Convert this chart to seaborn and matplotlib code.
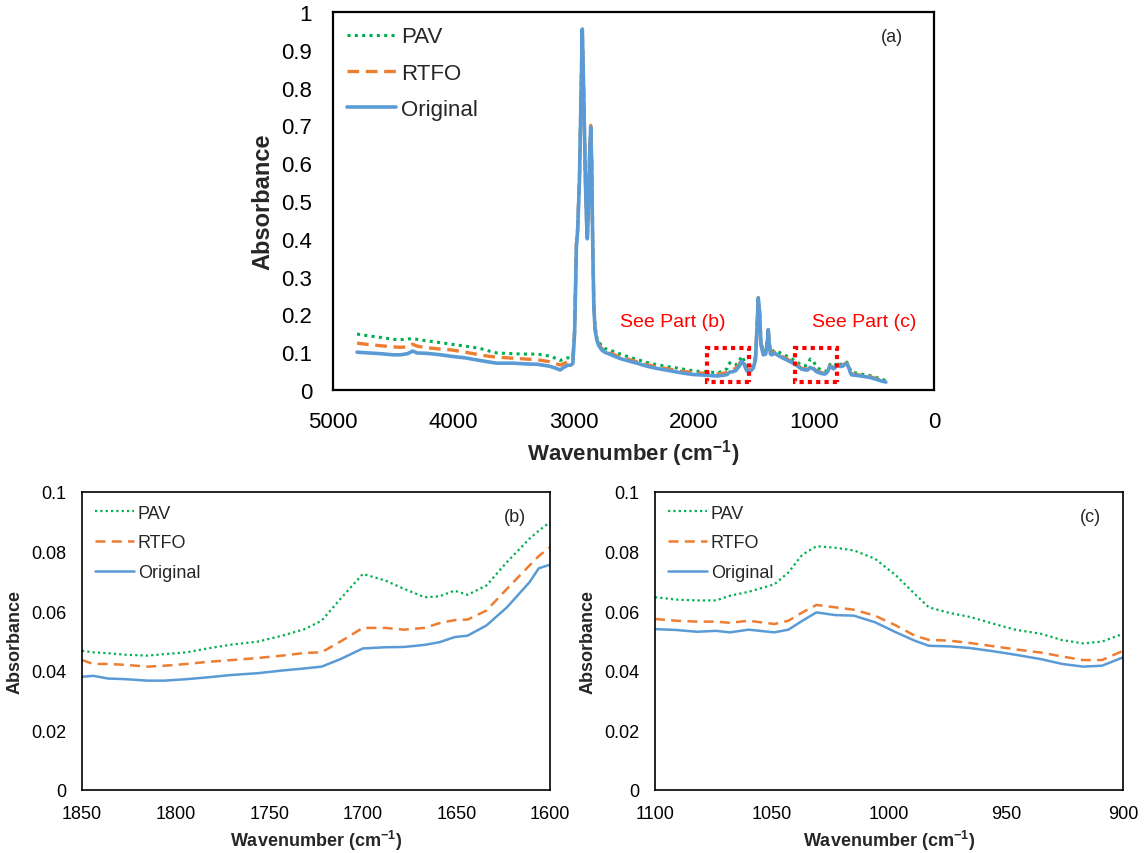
import numpy as np
import pandas as pd
import matplotlib
matplotlib.use("Agg")
import matplotlib.pyplot as plt
import seaborn as sns
from matplotlib.patches import Rectangle

sns.set_style("white")
plt.rcParams['font.family'] = ['Liberation Sans', 'DejaVu Sans']
plt.rcParams['mathtext.fontset'] = 'custom'
plt.rcParams['mathtext.rm'] = 'Liberation Sans'
plt.rcParams['mathtext.bf'] = 'Liberation Sans:bold'

# ---------------- data: full spectrum (a) ----------------
wavenumber = [
    4800, 4700, 4600, 4500, 4440, 4380, 4337, 4300, 4220, 4100,
    4013, 3900, 3777, 3700, 3638, 3500, 3400, 3300, 3200, 3150,
    3110, 3080, 3050, 3020, 3005, 2990, 2975, 2965, 2950, 2940,
    2926, 2915, 2900, 2890, 2884, 2875, 2865, 2856, 2848, 2840,
    2830, 2820, 2806, 2790, 2765, 2740, 2700, 2650, 2600, 2529,
    2450, 2390, 2320, 2252, 2180, 2113, 2050, 2003, 1950, 1891,
    1850, 1800, 1750, 1720, 1700, 1680, 1650, 1620, 1600, 1580,
    1560, 1545, 1520, 1503, 1485, 1470, 1462, 1450, 1440, 1420,
    1400, 1385, 1379, 1370, 1360, 1351, 1323, 1290, 1254, 1210,
    1171, 1130, 1101, 1070, 1050, 1030, 1000, 976, 940, 910,
    893, 880, 865, 850, 837, 820, 806, 795, 780, 760,
    740, 726, 710, 695, 685, 650, 588, 530, 477, 440,
    400]

original = [
    0.100, 0.098, 0.096, 0.093, 0.093, 0.096, 0.103, 0.098, 0.097, 0.093,
    0.089, 0.085, 0.078, 0.074, 0.071, 0.071, 0.069, 0.068, 0.063, 0.058,
    0.053, 0.060, 0.065, 0.066, 0.070, 0.150, 0.380, 0.420, 0.550, 0.720,
    0.955, 0.800, 0.550, 0.440, 0.400, 0.480, 0.620, 0.695, 0.600, 0.400,
    0.220, 0.160, 0.133, 0.118, 0.106, 0.100, 0.095, 0.088, 0.082, 0.076,
    0.069, 0.063, 0.058, 0.054, 0.050, 0.046, 0.043, 0.041, 0.040, 0.039,
    0.038, 0.037, 0.039, 0.041, 0.0475, 0.048, 0.051, 0.063, 0.076, 0.068,
    0.052, 0.049, 0.052, 0.058, 0.080, 0.180, 0.243, 0.200, 0.120, 0.093,
    0.095, 0.130, 0.159, 0.120, 0.095, 0.093, 0.097, 0.090, 0.084, 0.077,
    0.071, 0.062, 0.055, 0.053, 0.053, 0.060, 0.055, 0.048, 0.044, 0.042,
    0.045, 0.052, 0.063, 0.060, 0.056, 0.060, 0.066, 0.068, 0.062, 0.063,
    0.068, 0.069, 0.060, 0.045, 0.040, 0.039, 0.036, 0.033, 0.028, 0.024,
    0.021]

rtfo = [
    0.124, 0.120, 0.117, 0.114, 0.113, 0.114, 0.121, 0.116, 0.112, 0.108,
    0.106, 0.100, 0.093, 0.089, 0.087, 0.084, 0.082, 0.080, 0.075, 0.070,
    0.066, 0.070, 0.074, 0.076, 0.078, 0.155, 0.385, 0.425, 0.555, 0.725,
    0.950, 0.800, 0.555, 0.445, 0.405, 0.485, 0.625, 0.700, 0.605, 0.405,
    0.225, 0.165, 0.135, 0.122, 0.110, 0.104, 0.098, 0.092, 0.087, 0.080,
    0.073, 0.067, 0.062, 0.058, 0.054, 0.050, 0.048, 0.046, 0.045, 0.044,
    0.0435, 0.042, 0.0445, 0.046, 0.054, 0.054, 0.057, 0.068, 0.0815, 0.072,
    0.056, 0.053, 0.055, 0.061, 0.085, 0.185, 0.245, 0.205, 0.125, 0.097,
    0.099, 0.133, 0.160, 0.124, 0.099, 0.097, 0.100, 0.093, 0.087, 0.080,
    0.074, 0.065, 0.057, 0.056, 0.056, 0.062, 0.057, 0.050, 0.047, 0.044,
    0.047, 0.054, 0.065, 0.062, 0.058, 0.062, 0.068, 0.070, 0.064, 0.065,
    0.070, 0.071, 0.062, 0.047, 0.042, 0.041, 0.038, 0.035, 0.030, 0.026,
    0.023]

pav = [
    0.148, 0.143, 0.139, 0.134, 0.133, 0.135, 0.136, 0.134, 0.130, 0.125,
    0.121, 0.116, 0.110, 0.103, 0.098, 0.096, 0.095, 0.095, 0.090, 0.084,
    0.078, 0.082, 0.085, 0.085, 0.086, 0.160, 0.385, 0.425, 0.555, 0.720,
    0.950, 0.800, 0.555, 0.445, 0.405, 0.485, 0.620, 0.695, 0.605, 0.405,
    0.230, 0.170, 0.140, 0.128, 0.117, 0.110, 0.106, 0.100, 0.094, 0.086,
    0.079, 0.073, 0.068, 0.064, 0.060, 0.057, 0.053, 0.051, 0.049, 0.048,
    0.047, 0.0455, 0.050, 0.057, 0.072, 0.066, 0.066, 0.076, 0.090, 0.078,
    0.062, 0.058, 0.060, 0.066, 0.090, 0.185, 0.243, 0.205, 0.128, 0.102,
    0.104, 0.135, 0.158, 0.128, 0.104, 0.102, 0.105, 0.100, 0.094, 0.087,
    0.080, 0.072, 0.065, 0.064, 0.069, 0.082, 0.074, 0.060, 0.053, 0.049,
    0.052, 0.060, 0.068, 0.066, 0.063, 0.066, 0.072, 0.074, 0.068, 0.068,
    0.073, 0.074, 0.066, 0.052, 0.047, 0.045, 0.041, 0.038, 0.033, 0.029,
    0.025]

# ---------------- data: zoom (b) 1850-1600 ----------------
wn_b = [1850, 1844, 1836, 1827, 1815, 1806, 1794, 1783, 1770, 1756,
        1743, 1731, 1722, 1712, 1700, 1688, 1678, 1667, 1659, 1651,
        1644, 1634, 1623, 1611, 1606, 1600]
orig_b = [0.0380, 0.0383, 0.0374, 0.0372, 0.0367, 0.0367, 0.0372, 0.0378, 0.0386, 0.0392,
          0.0401, 0.0408, 0.0414, 0.0439, 0.0475, 0.0479, 0.0480, 0.0487, 0.0496, 0.0513,
          0.0518, 0.0552, 0.0613, 0.0697, 0.0744, 0.0756]
rtfo_b = [0.0436, 0.0423, 0.0423, 0.0420, 0.0414, 0.0417, 0.0423, 0.0430, 0.0436, 0.0443,
          0.0451, 0.0460, 0.0462, 0.0498, 0.0544, 0.0544, 0.0538, 0.0544, 0.0560, 0.0570,
          0.0572, 0.0602, 0.0675, 0.0753, 0.0785, 0.0815]
pav_b = [0.0467, 0.0462, 0.0459, 0.0454, 0.0451, 0.0456, 0.0462, 0.0475, 0.0488, 0.0498,
         0.0518, 0.0540, 0.0568, 0.0641, 0.0725, 0.0703, 0.0675, 0.0647, 0.0650, 0.0669,
         0.0655, 0.0686, 0.0765, 0.0843, 0.0870, 0.0899]

# ---------------- data: zoom (c) 1100-900 ----------------
wn_c = [1100, 1091, 1082, 1074, 1068, 1060, 1049, 1043, 1037, 1031,
        1023, 1015, 1006, 997, 989, 983, 974, 965, 955, 946,
        935, 926, 917, 909, 900]
orig_c = [0.0540, 0.0537, 0.0531, 0.0534, 0.0529, 0.0538, 0.0529, 0.0538, 0.0568, 0.0596,
          0.0587, 0.0585, 0.0563, 0.0529, 0.0501, 0.0484, 0.0482, 0.0476, 0.0465, 0.0454,
          0.0439, 0.0423, 0.0414, 0.0417, 0.0445]
rtfo_c = [0.0574, 0.0568, 0.0565, 0.0565, 0.0561, 0.0568, 0.0557, 0.0568, 0.0596, 0.0621,
          0.0613, 0.0605, 0.0585, 0.0552, 0.0518, 0.0504, 0.0501, 0.0493, 0.0482, 0.0472,
          0.0461, 0.0448, 0.0436, 0.0436, 0.0467]
pav_c = [0.0647, 0.0639, 0.0636, 0.0636, 0.0652, 0.0665, 0.0690, 0.0730, 0.0790, 0.0818,
         0.0813, 0.0804, 0.0776, 0.0720, 0.0658, 0.0613, 0.0594, 0.0580, 0.0557, 0.0538,
         0.0524, 0.0503, 0.0492, 0.0498, 0.0524]

series_names = ["PAV", "RTFO", "Original"]
colors = {"PAV": "#00B050", "RTFO": "#ED7D31", "Original": "#5B9BD5"}


def make_df(wn, p, r, o):
    frames = []
    for name, vals in zip(series_names, [p, r, o]):
        frames.append(pd.DataFrame({"wn": wn, "abs": vals, "series": name}))
    return pd.concat(frames, ignore_index=True)


def draw(ax, df, lw, dot, dash):
    styles = {"PAV": (0, dot), "RTFO": (0, dash), "Original": "-"}
    for name in series_names:
        sub = df[df["series"] == name]
        sns.lineplot(data=sub, x="wn", y="abs", ax=ax, sort=False,
                     color=colors[name], linestyle=styles[name],
                     linewidth=lw[name], label=name)


W, H = 1144, 854
fig = plt.figure(figsize=(W / 100, H / 100), dpi=100)


def rect(l, t, r, b):
    return [l / W, 1 - b / H, (r - l) / W, (b - t) / H]


# ---- (a) ----
ax_a = fig.add_axes(rect(333, 13, 934, 391))
df_a = make_df(wavenumber, pav, rtfo, original)
draw(ax_a, df_a, {"PAV": 2.2, "RTFO": 2.4, "Original": 2.6}, (1, 1.4), (3.5, 2.0))
ax_a.set_xlim(5000, 0)
ax_a.set_ylim(0, 1)
ax_a.set_xticks([5000, 4000, 3000, 2000, 1000, 0])
ax_a.set_yticks(np.arange(0, 1.01, 0.1))
ax_a.set_yticklabels(["0", "0.1", "0.2", "0.3", "0.4", "0.5", "0.6", "0.7", "0.8", "0.9", "1"])
ax_a.tick_params(axis="both", labelsize=16, direction="in", length=5, width=1.2,
                 colors="black", pad=15)
ax_a.set_xlabel(r"Wavenumber (cm$^{\mathbf{-1}}$)", fontsize=16, fontweight="bold", labelpad=4)
ax_a.set_ylabel("Absorbance", fontsize=17, fontweight="bold", labelpad=5)
for s in ax_a.spines.values():
    s.set_color("black")
    s.set_linewidth(1.6)
ax_a.legend(loc="upper left", frameon=False, fontsize=16, handlelength=2.2,
            handletextpad=0.2, labelspacing=0.68, borderaxespad=0.25,
            bbox_to_anchor=(0.0, 1.0))
ax_a.text(0.93, 0.934, "(a)", transform=ax_a.transAxes, fontsize=13, ha="center", va="center")
ax_a.text(2171, 0.182, "See Part (b)", color="red", fontsize=14, ha="center", va="center")
ax_a.text(582, 0.182, "See Part (c)", color="red", fontsize=14, ha="center", va="center")
for x0, x1 in [(1890, 1540), (1156, 806)]:
    ax_a.add_patch(Rectangle((x1, 0.021), x0 - x1, 0.091, fill=False, edgecolor="red",
                             linewidth=3, linestyle=(0, (1, 1)), zorder=5))

# ---- (b) ----
ax_b = fig.add_axes(rect(82, 493, 550, 791))
df_b = make_df(wn_b, pav_b, rtfo_b, orig_b)
draw(ax_b, df_b, {"PAV": 1.6, "RTFO": 1.8, "Original": 1.8}, (1, 1.4), (4, 2.5))
ax_b.set_xlim(1850, 1600)
ax_b.set_xticks([1850, 1800, 1750, 1700, 1650, 1600])

# ---- (c) ----
ax_c = fig.add_axes(rect(655, 493, 1123, 791))
df_c = make_df(wn_c, pav_c, rtfo_c, orig_c)
draw(ax_c, df_c, {"PAV": 1.6, "RTFO": 1.8, "Original": 1.8}, (1, 1.4), (4, 2.5))
ax_c.set_xlim(1100, 900)
ax_c.set_xticks([1100, 1050, 1000, 950, 900])

for ax, tag, tx in [(ax_b, "(b)", 0.925), (ax_c, "(c)", 0.931)]:
    ax.set_ylim(0, 0.1)
    ax.set_yticks([0, 0.02, 0.04, 0.06, 0.08, 0.1])
    ax.set_yticklabels(["0", "0.02", "0.04", "0.06", "0.08", "0.1"])
    ax.tick_params(axis="both", labelsize=13, direction="in", length=5, width=1,
                   colors="black", pad=11)
    ax.set_xlabel(r"Wavenumber (cm$^{\mathbf{-1}}$)", fontsize=13, fontweight="bold", labelpad=4)
    ax.set_ylabel("Absorbance", fontsize=13, fontweight="bold", labelpad=6)
    for s in ax.spines.values():
        s.set_color("black")
        s.set_linewidth(1.2)
    ax.legend(loc="upper left", frameon=False, fontsize=13, handlelength=2.2,
              handletextpad=0.2, labelspacing=0.71, borderaxespad=0.3)
    ax.text(tx, 0.919, tag, transform=ax.transAxes, fontsize=13, ha="center", va="center")

fig.savefig("out.png", dpi=100)
